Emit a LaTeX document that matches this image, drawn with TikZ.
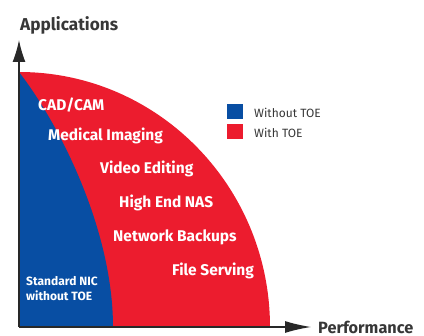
\documentclass[tikz,border=0pt]{standalone}
\usepackage{fontspec}
\setmainfont{Fira Sans}
\usetikzlibrary{arrows.meta}
\definecolor{toeblue}{RGB}{8,78,163}
\definecolor{toered}{RGB}{236,28,46}
\definecolor{axisgray}{RGB}{40,40,40}
\definecolor{txtgray}{RGB}{55,55,55}
\tikzset{
  inlabel/.style={anchor=base west, inner sep=0pt, text=white, font=\fontsize{15.5}{17}\selectfont\bfseries},
  axislabel/.style={inner sep=0pt, text=txtgray, font=\fontsize{17.2}{19}\selectfont\bfseries},
  legtext/.style={anchor=west, inner sep=0pt, text=txtgray, font=\fontsize{12}{13}\selectfont},
  legbox/.style={minimum width=16pt, minimum height=15pt, inner sep=0pt, draw=none},
  axisline/.style={draw=axisgray, line width=1.3pt}
}
\begin{document}
\begin{tikzpicture}[x=1pt,y=-1pt]
\useasboundingbox (0,0) rectangle (424,336);
\coordinate (O) at (19,327);
\coordinate (ytip) at (19,40);
\coordinate (xtip) at (311,327);
% regions
\fill[toered] (O) -- (19,72) arc[start angle=90, end angle=0, x radius=251pt, y radius=255pt] -- cycle;
\fill[toeblue] (O) -- (19,72) .. controls (60,125) and (113,230) .. (113,327) -- cycle;
% axes
\draw[axisline, -{Latex[length=22pt,width=13pt]}] (O) -- (ytip);
\draw[axisline, -{Latex[length=26pt,width=12pt]}] (O) -- (xtip);
\node[axislabel, anchor=base west] (ylab) at (20,31) {Applications};
\node[axislabel, anchor=west, font=\fontsize{16.3}{18}\selectfont\bfseries] (xlab) at (318,327) {Performance};
% labels
\node[inlabel] (cad) at (38,111) {CAD/CAM};
\node[inlabel] (med) at (48,141) {Medical Imaging};
\node[inlabel] (vid) at (100,174) {Video Editing};
\node[inlabel] (nas) at (119,208) {High End NAS};
\node[inlabel] (net) at (113,242) {Network Backups};
\node[inlabel] (file) at (172,276) {File Serving};
\node[anchor=base west, inner sep=0pt, text=white, align=left, font=\fontsize{12}{15}\selectfont\bfseries] (std) at (26,301) {Standard NIC\\without TOE};
% legend
\node[legbox, fill=toeblue] (lb1) at (235,111.5) {};
\node[legbox, fill=toered] (lb2) at (235,131.5) {};
\node[legtext] (lt1) at (254,112.5) {Without TOE};
\node[legtext] (lt2) at (254,133) {With TOE};
\end{tikzpicture}
\end{document}
